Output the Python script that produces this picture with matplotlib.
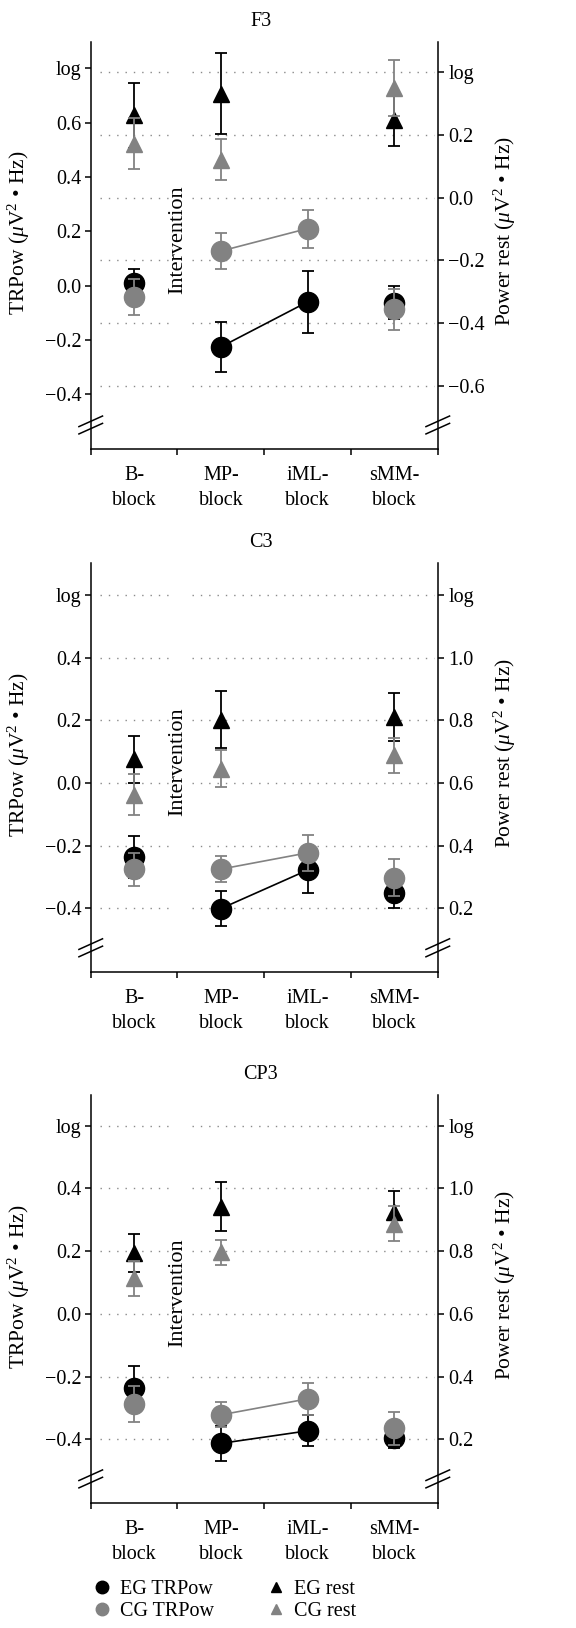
import numpy as np
import matplotlib
matplotlib.use('Agg')
import matplotlib.pyplot as plt
import matplotlib.transforms as mtransforms
from matplotlib.lines import Line2D

plt.rcParams['font.family'] = ['Liberation Serif', 'DejaVu Serif']
plt.rcParams['mathtext.fontset'] = 'custom'
plt.rcParams['mathtext.rm'] = 'Liberation Serif'
plt.rcParams['mathtext.it'] = 'Liberation Serif:italic'
plt.rcParams['font.size'] = 14.5

# categories
blocks = ['B-\nblock', 'MP-\nblock', 'iML-\nblock', 'sMM-\nblock']
electrodes = ['F3', 'C3', 'CP3']
rest_idx = [0, 1, 3]  # rest measured in B, MP and sMM blocks only

# TRPow (left axis), one row per electrode
eg_trpow = [[0.010, -0.226, -0.060, -0.063],
            [-0.236, -0.401, -0.278, -0.350],
            [-0.235, -0.413, -0.373, -0.397]]
eg_trpow_err = [[0.050, 0.093, 0.115, 0.060],
                [0.067, 0.056, 0.074, 0.049],
                [0.070, 0.055, 0.049, 0.030]]
cg_trpow = [[-0.042, 0.127, 0.210, -0.088],
            [-0.276, -0.275, -0.223, -0.302],
            [-0.288, -0.322, -0.271, -0.365]]
cg_trpow_err = [[0.067, 0.065, 0.070, 0.074],
                [0.053, 0.042, 0.058, 0.058],
                [0.058, 0.040, 0.050, 0.053]]

# Power rest (right axis)
eg_rest = [[0.262, 0.331, 0.248],
           [0.675, 0.802, 0.811],
           [0.794, 0.942, 0.926]]
eg_rest_err = [[0.104, 0.130, 0.085],
               [0.074, 0.090, 0.076],
               [0.062, 0.077, 0.066]]
cg_rest = [[0.172, 0.121, 0.350],
           [0.563, 0.646, 0.688],
           [0.714, 0.797, 0.887]]
cg_rest_err = [[0.082, 0.064, 0.089],
               [0.064, 0.060, 0.056],
               [0.056, 0.040, 0.056]]

# axis ticks / labels
left_ticks = [[-0.4, -0.2, 0.0, 0.2, 0.4, 0.6, 0.8],
              [-0.4, -0.2, 0.0, 0.2, 0.4, 0.6],
              [-0.4, -0.2, 0.0, 0.2, 0.4, 0.6]]
left_labels = [['\u22120.4', '\u22120.2', '0.0', '0.2', '0.4', '0.6', 'log'],
               ['\u22120.4', '\u22120.2', '0.0', '0.2', '0.4', 'log'],
               ['\u22120.4', '\u22120.2', '0.0', '0.2', '0.4', 'log']]
right_ticks = [[-0.6, -0.4, -0.2, 0.0, 0.2, 0.4],
               [0.2, 0.4, 0.6, 0.8, 1.0, 1.2],
               [0.2, 0.4, 0.6, 0.8, 1.0, 1.2]]
right_labels = [['\u22120.6', '\u22120.4', '\u22120.2', '0.0', '0.2', 'log'],
                ['0.2', '0.4', '0.6', '0.8', '1.0', 'log'],
                ['0.2', '0.4', '0.6', '0.8', '1.0', 'log']]
left_lims = [(-0.602, 0.897), (-0.603, 0.702), (-0.603, 0.698)]
right_lims = [(-0.800, 0.495), (-0.003, 1.302), (-0.003, 1.298)]

BLACK = '#000000'
GREY = '#828282'

fig = plt.figure(figsize=(5.76, 16.28), dpi=100)
bottoms = [0.7242, 0.4030, 0.0768]
heights = [0.2500, 0.2512, 0.2506]

x = np.arange(len(blocks)) + 0.5
xr = x[rest_idx]

for i, name in enumerate(electrodes):
    ax = fig.add_axes([0.1575, bottoms[i], 0.6025, heights[i]])
    ax2 = ax.twinx()

    ax.set_xlim(0, 4)
    ax.set_ylim(*left_lims[i])
    ax2.set_ylim(*right_lims[i])

    # dotted guide lines at the right-axis ticks, broken around the text
    for yv in right_ticks[i]:
        for x0, x1 in [(0.11, 0.92), (1.17, 3.96)]:
            ax.hlines(yv, x0, x1, colors='#8a8a8a', linestyles=(0, (1, 5)),
                      linewidth=1.0, transform=ax2.transData, zorder=0)

    # TRPow
    ax.plot(x[1:3], eg_trpow[i][1:3], color=BLACK, lw=1.2, zorder=2)
    ax.plot(x[1:3], cg_trpow[i][1:3], color=GREY, lw=1.2, zorder=2)
    ax.errorbar(x, eg_trpow[i], yerr=eg_trpow_err[i], fmt='o', color=BLACK,
                ms=14.5, capsize=4, elinewidth=1.3, capthick=1.3, zorder=3)
    ax.errorbar(x, cg_trpow[i], yerr=cg_trpow_err[i], fmt='o', color=GREY,
                ms=14.5, capsize=4, elinewidth=1.3, capthick=1.3, zorder=4)

    # rest
    ax2.errorbar(xr, eg_rest[i], yerr=eg_rest_err[i], fmt='^', color=BLACK,
                 ms=11, capsize=4, elinewidth=1.3, capthick=1.3, zorder=3)
    ax2.errorbar(xr, cg_rest[i], yerr=cg_rest_err[i], fmt='^', color=GREY,
                 ms=11, capsize=4, elinewidth=1.3, capthick=1.3, zorder=4)

    # spines
    for a in (ax, ax2):
        a.spines['top'].set_visible(False)
        for s in a.spines.values():
            s.set_linewidth(1.1)
    ax.spines['right'].set_visible(False)
    ax2.spines['left'].set_visible(False)
    ax2.spines['bottom'].set_visible(False)

    ax.set_yticks(left_ticks[i])
    ax.set_yticklabels(left_labels[i])
    ax2.set_yticks(right_ticks[i])
    ax2.set_yticklabels(right_labels[i])
    ax.tick_params(axis='y', direction='out', length=4, width=1.1, pad=2.5)
    ax2.tick_params(axis='y', direction='out', length=4, width=1.1, pad=3.5)

    ax.set_xticks(np.arange(5))
    ax.set_xticklabels([])
    ax.set_xticks(x, minor=True)
    ax.set_xticklabels(blocks, minor=True, linespacing=1.45)
    ax.tick_params(axis='x', which='major', direction='out', length=4, width=1.1)
    ax.tick_params(axis='x', which='minor', length=0, pad=12)

    ax.set_ylabel('TRPow ($\\mu$V$^2$ \u2022 Hz)', fontsize=15.5)
    ax.yaxis.set_label_coords(-0.17, 0.53)
    ax2.set_ylabel('Power rest ($\\mu$V$^2$ \u2022 Hz)', fontsize=15.5)
    ax2.yaxis.set_label_coords(1.155, 0.535)

    ax.text(0.49, 1.05, name, transform=ax.transAxes, ha='center', va='center')

    trans = mtransforms.blended_transform_factory(ax.transData, ax.transAxes)
    ax.text(1.0, 0.515, 'Intervention', transform=trans, rotation=90,
            ha='center', va='center', fontsize=16)

    # axis break marks
    for xs in (0.0, 1.0):
        for dy in (-0.009, 0.009):
            ax.plot([xs - 0.034, xs + 0.034],
                    [0.059 + dy - 0.013, 0.059 + dy + 0.013],
                    transform=ax.transAxes, color=BLACK, lw=1.1,
                    clip_on=False, zorder=5)

handles = [
    Line2D([], [], marker='o', color=BLACK, ls='none', ms=9),
    Line2D([], [], marker='o', color=GREY, ls='none', ms=9),
    Line2D([], [], marker='^', color=BLACK, ls='none', ms=7),
    Line2D([], [], marker='^', color=GREY, ls='none', ms=7),
]
labels = ['EG TRPow', 'CG TRPow', 'EG rest', 'CG rest']
fig.legend(handles, labels, loc='upper left', ncol=2, frameon=False,
           bbox_to_anchor=(0.145, 1 - 1572 / 1628), handlelength=1.0,
           handletextpad=0.4, columnspacing=2.6, labelspacing=0.12,
           borderaxespad=0, fontsize=14.5)

plt.savefig('out.png', dpi=100)
